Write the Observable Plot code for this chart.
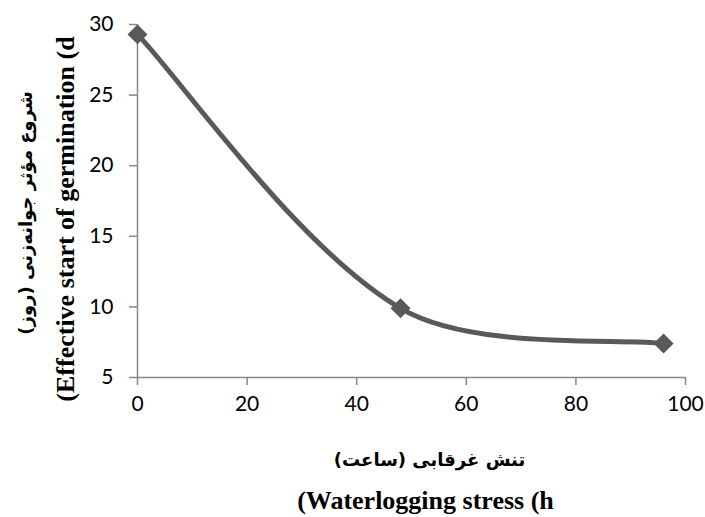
<!DOCTYPE html>
<html>
<head>
<meta charset="utf-8">
<script src="https://cdn.jsdelivr.net/npm/d3@7"></script>
<script src="https://cdn.jsdelivr.net/npm/@observablehq/plot@0.6"></script>
<style>
  html, body { margin: 0; padding: 0; background: #fff; }
</style>
</head>
<body>
<div id="chart"></div>
<script>
const stressHours = [0, 48, 96];
const startDays = [29.3, 9.9, 7.4];
const xTicks = [0, 20, 40, 60, 80, 100];
const yTicks = [5, 10, 15, 20, 25, 30];
const yTitleFa = "شروع مؤثر جوانه‌زنی (روز)";
const yTitleEn = "(Effective start of germination (d";
const xTitleFa = "تنش غرقابی (ساعت)";
const xTitleEn = "(Waterlogging stress (h";

const data = stressHours.map((x, i) => ({x, y: startDays[i]}));
const gray = "#595959";
const axisGray = "#868686";
const enFont = "'Liberation Serif', 'Times New Roman', serif";
const faFont = "'DejaVu Sans', sans-serif";

// Excel-like smoothed line: Bezier segments with chord-length weighted tangents
function excelSmooth(context) {
  let pts = [];
  return {
    areaStart() {}, areaEnd() {},
    lineStart() { pts = []; },
    point(x, y) { pts.push([+x, +y]); },
    lineEnd() {
      const n = pts.length;
      if (!n) return;
      context.moveTo(pts[0][0], pts[0][1]);
      if (n === 1) return;
      if (n === 2) { context.lineTo(pts[1][0], pts[1][1]); return; }
      const dist = (a, b) => Math.hypot(b[0] - a[0], b[1] - a[1]);
      for (let i = 0; i < n - 1; i++) {
        const p0 = pts[i], p1 = pts[i + 1];
        let c1, c2;
        if (i === 0) {
          c1 = [p0[0] + (p1[0] - p0[0]) / 6, p0[1] + (p1[1] - p0[1]) / 6];
        } else {
          const pm = pts[i - 1], a = dist(pm, p0), b = dist(p0, p1), f = b / (a + b) / 3;
          c1 = [p0[0] + (p1[0] - pm[0]) * f, p0[1] + (p1[1] - pm[1]) * f];
        }
        if (i === n - 2) {
          c2 = [p1[0] - (p1[0] - p0[0]) / 6, p1[1] - (p1[1] - p0[1]) / 6];
        } else {
          const p2 = pts[i + 2], a = dist(p0, p1), b = dist(p1, p2), f = a / (a + b) / 3;
          c2 = [p1[0] - (p2[0] - p0[0]) * f, p1[1] - (p2[1] - p0[1]) * f];
        }
        context.bezierCurveTo(c1[0], c1[1], c2[0], c2[1], p1[0], p1[1]);
      }
    }
  };
}

const chart = Plot.plot({
  width: 705,
  height: 517,
  marginLeft: 137,
  marginRight: 20,
  marginTop: 24,
  marginBottom: 140,
  style: {fontFamily: "Lato, 'Open Sans', sans-serif", fontSize: "21px", color: "#000", background: "#fff"},
  x: {domain: [0, 100]},
  y: {domain: [5, 30]},
  marks: [
    Plot.axisX({ticks: xTicks, tickSize: 8, tickPadding: 11, stroke: axisGray, strokeWidth: 1.5, fill: "#000", fontSize: 21, label: null}),
    Plot.axisY({ticks: yTicks, tickSize: 8, tickPadding: 16, stroke: axisGray, strokeWidth: 1.5, fill: "#000", fontSize: 21, label: null}),
    Plot.ruleX([0], {stroke: axisGray, strokeWidth: 1.5}),
    Plot.ruleY([5], {stroke: axisGray, strokeWidth: 1.5}),
    Plot.line(data, {x: "x", y: "y", curve: excelSmooth, stroke: gray, strokeWidth: 5}),
    Plot.dot(data, {x: "x", y: "y", symbol: "diamond2", r: 9, fill: gray, stroke: null}),
    Plot.text([yTitleFa], {text: d => d, frameAnchor: "left", textAnchor: "middle", lineAnchor: "middle", dx: -111, dy: 12, rotate: -90, fontFamily: faFont, fontWeight: "bold", fontSize: 18, fill: "#000"}),
    Plot.text([yTitleEn], {text: d => d, frameAnchor: "left", textAnchor: "middle", lineAnchor: "middle", dx: -72, dy: 18, rotate: -90, fontFamily: enFont, fontWeight: "bold", fontSize: 26, fill: "#000"}),
    Plot.text([xTitleFa], {text: d => d, frameAnchor: "bottom", textAnchor: "middle", lineAnchor: "middle", dx: 18, dy: 83, fontFamily: faFont, fontWeight: "bold", fontSize: 18, fill: "#000"}),
    Plot.text([xTitleEn], {text: d => d, frameAnchor: "bottom", textAnchor: "middle", lineAnchor: "middle", dx: 14, dy: 123, fontFamily: enFont, fontWeight: "bold", fontSize: 26, fill: "#000"})
  ]
});
document.getElementById("chart").appendChild(chart);
</script>
</body>
</html>
